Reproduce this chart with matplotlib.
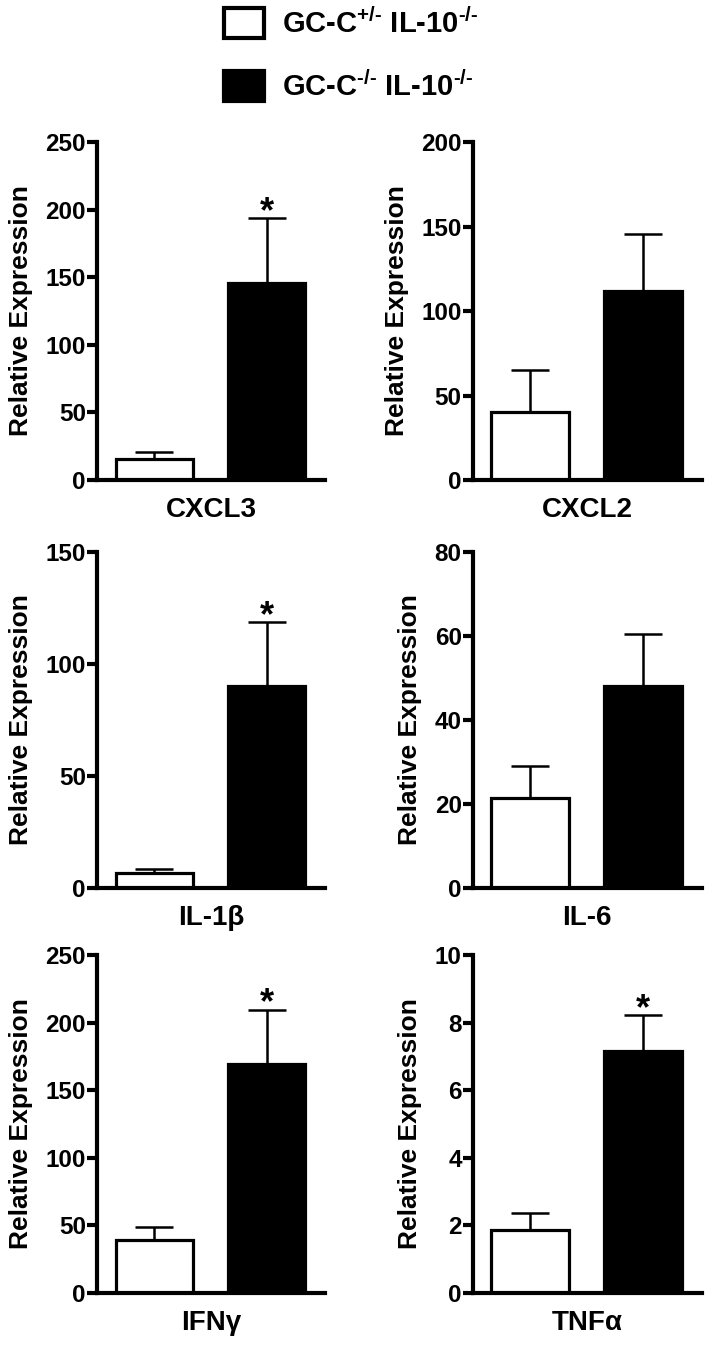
import numpy as np
import matplotlib
matplotlib.use("Agg")
import matplotlib.pyplot as plt
from matplotlib.patches import Patch

plt.rcParams['font.family'] = ['Liberation Sans', 'DejaVu Sans']
plt.rcParams['font.weight'] = 'bold'
plt.rcParams['mathtext.fontset'] = 'custom'
plt.rcParams['mathtext.rm'] = 'Liberation Sans:bold'
plt.rcParams['mathtext.bf'] = 'Liberation Sans:bold'
plt.rcParams['mathtext.it'] = 'Liberation Sans:bold'

# data
genes = ['CXCL3', 'CXCL2', 'IL-1β', 'IL-6', 'IFNγ', 'TNFα']
het_mean = [15.5, 40, 6.7, 21.5, 39, 1.85]
het_err = [5, 25, 1.8, 7.5, 10, 0.52]
ko_mean = [145.5, 112, 90, 48, 169.5, 7.15]
ko_err = [48, 33.5, 28.5, 12.5, 40, 1.07]
y_max = [250, 200, 150, 80, 250, 10]
y_step = [50, 50, 50, 20, 50, 2]
signif = [True, False, True, False, True, True]
groups = [r'GC-C$^{+/\text{-}}$ IL-10$^{\text{-}/\text{-}}$',
          r'GC-C$^{\text{-}/\text{-}}$ IL-10$^{\text{-}/\text{-}}$']

fig = plt.figure(figsize=(7.1, 13.54), dpi=100)

# axes boxes (left, bottom, width, height) in figure fraction
col_left = [0.1366, 0.666]
col_w = [0.3211, 0.3225]
row_bot = [0.6455, 0.3442, 0.0451]
row_h = [0.2496, 0.2482, 0.2496]

for i, g in enumerate(genes):
    r, c = i // 2, i % 2
    ax = fig.add_axes([col_left[c], row_bot[r], col_w[c], row_h[r]])
    x = np.arange(2)
    ax.errorbar(x, [het_mean[i], ko_mean[i]],
                yerr=[[0, 0], [het_err[i], ko_err[i]]],
                fmt='none', ecolor='black', elinewidth=1.8,
                capsize=14, capthick=1.8, zorder=1)
    ax.bar(x, [het_mean[i], ko_mean[i]], width=0.69,
           color=['white', 'black'], edgecolor='black', linewidth=2.3, zorder=2)
    if signif[i]:
        ax.annotate('*', (1, ko_mean[i] + ko_err[i]), xytext=(0, -8.5),
                    textcoords='offset points', ha='center', va='bottom',
                    fontsize=26, fontweight='bold')
    ax.set_xlim(-0.51, 1.52)
    ax.set_ylim(0, y_max[i])
    ax.set_yticks(np.arange(0, y_max[i] + y_step[i] / 2, y_step[i]))
    for s in ['top', 'right']:
        ax.spines[s].set_visible(False)
    for s in ['left', 'bottom']:
        ax.spines[s].set_linewidth(3)
    ax.tick_params(axis='y', direction='out', length=7, width=3,
                   labelsize=17.5, pad=1)
    ax.tick_params(axis='x', bottom=False, labelbottom=False)
    ax.set_ylabel('Relative Expression', fontsize=19, fontweight='bold', labelpad=9)
    ax.set_xlabel(g, fontsize=20, fontweight='bold', labelpad=12)

handles = [Patch(facecolor='white', edgecolor='black', linewidth=3),
           Patch(facecolor='black', edgecolor='black', linewidth=3)]
fig.legend(handles, groups, loc='upper left', bbox_to_anchor=(0.307, 0.9985),
           frameon=False, fontsize=21, handlelength=1.37, handleheight=1.2,
           handletextpad=0.62, labelspacing=1.1, borderaxespad=0, borderpad=0.2)

fig.savefig('out.png', dpi=100)
